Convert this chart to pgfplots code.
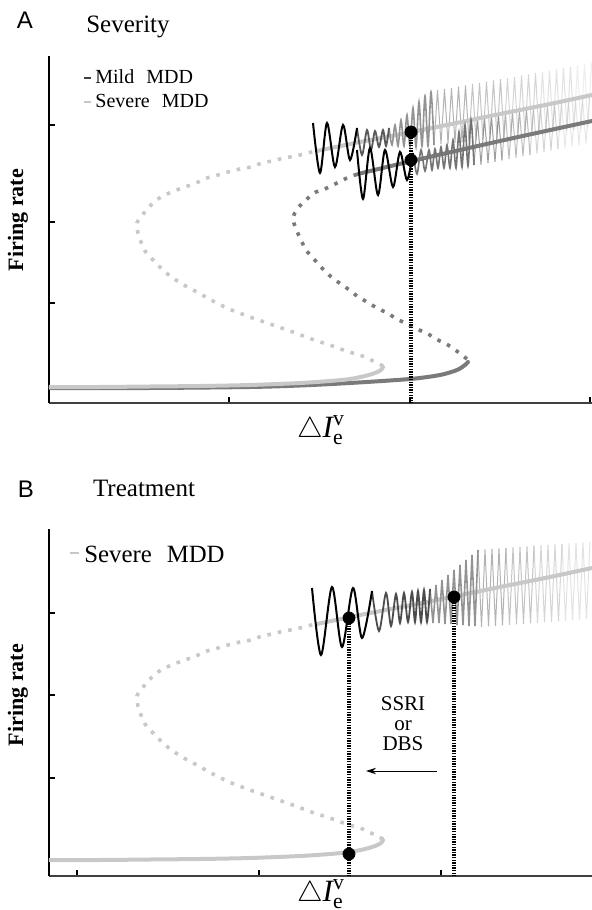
\documentclass[border=0pt]{standalone}
\usepackage{amsmath}
\usepackage{pgfplots}
\pgfplotsset{compat=1.18}
\usepackage{pgfplotstable}
\usepackage{fontspec}
\setmainfont{Liberation Serif}
\newfontfamily\arial{Liberation Sans}
\usetikzlibrary{arrows.meta}

\definecolor{lightc}{HTML}{C8C8C8}
\definecolor{darkc}{HTML}{7A7A7A}
\definecolor{bandS}{HTML}{ABABAB}
\definecolor{bandM}{HTML}{858585}

% severe MDD bifurcation curve (pixel-like units, y downward)
\pgfplotstableread{
x y
49 387
100 387
150 386.5
200 386
250 385
300 383
330 381
350 379
365 376
375 373
381 370
383 367
}\lightLower
\pgfplotstableread{
x y
383 366
371 360
360 355
349 352
338 348
327 344
317 341
306 337
290 331
270 324
250 317
229 309
219 304
209 299
199 293
189 288
179 282
170 276
161 268
153 260
145 251
141 242
138 233
137 223
144 213
154 202
163 196
174 191
185 187
196 183
207 178
218 175
228 172
240 169
251 167
262 163
272 161
284 158
296 156
307 153
317 151
}\lightMid
\pgfplotstableread{
x y
317 151
360 142
412 132
454 123.5
500 114
550 104
592 95
}\lightUpper
% mild MDD curve
\pgfplotstableread{
x y
49 388
150 388
250 387
300 385.5
350 383
410 379
440 375
457 370
465 365
468 362
}\darkLower
\pgfplotstableread{
x y
467 359
458 352
448 345
438 340
428 334
417 329
407 324
397 319
387 313
377 308
367 302
357 296
348 289
338 282
329 275
321 267
313 258
306 250
301 240
296 229
293 218
298 208
307 199
316 192
327 188
337 183
347 178
358 174
}\darkMid
\pgfplotstableread{
x y
358 174
412 161
500 141
592 121
}\darkUpper

\pgfplotsset{
  panel/.style={scale only axis, width=271.5pt, height=173.5pt,
    xmin=49, xmax=592, ymin=56, ymax=403, y dir=reverse,
    axis x line=bottom, axis y line=left,
    axis line style={-, line width=0.6pt, black},
    x axis line style={line width=0.8pt, black!75},
    tick align=inside, major tick length=2.8pt,
    tick style={line width=0.6pt, black},
    xticklabels={}, yticklabels={}},
  solidS/.style={lightc, line width=2pt, line cap=round, smooth},
  solidM/.style={darkc, line width=2pt, line cap=round, smooth},
  dotS/.style={lightc, line width=1.8pt, dash pattern=on 1.8pt off 3.5pt, smooth},
  dotM/.style={darkc, line width=1.8pt, dash pattern=on 1.8pt off 3.5pt, smooth},
  vdot/.style={black, line width=1.6pt, dash pattern=on 0.7pt off 0.6pt},
  dotmark/.style={only marks, mark=*, mark size=3pt, black},
}

\begin{document}
\begin{tikzpicture}[x=1pt,y=1pt]
\useasboundingbox (0pt,0pt) rectangle (296pt,455pt);
% ---------------- Panel A ----------------
\node[font=\arial\fontsize{12}{12}\selectfont] at (12.5pt,445pt) {A};
\node[font=\fontsize{12.5}{12}\selectfont, anchor=base] at (64pt,438.5pt) {Severity};
\node[rotate=90, font=\bfseries\fontsize{11}{11}\selectfont] at (9pt,345pt) {Firing rate};
\node[font=\fontsize{15.5}{15}\selectfont] at (160.5pt,240pt) {$\triangle\textit{I}_{\text{e}}^{\text{v}}$};
\begin{axis}[panel, at={(24.5pt,253.5pt)}, anchor=south west,
  xtick={229,410,590}, ytick={125,222,303,386}]
\addplot[solidM] table {\darkLower};
\addplot[solidS] table {\lightLower};
\addplot[dotS] table {\lightMid};
\addplot[dotM] table {\darkMid};
% dense oscillations, severe
\addplot[bandS, line width=0.5pt, draw opacity=0.9] coordinates {(434,145) (437.5,90) (441,144) (444.5,89) (448,143.5) (451.5,88) (455,142.7) (458.5,86.7) (462,142) (465.5,85.4) (469,141.2)};
\addplot[bandS, line width=0.5pt, draw opacity=0.7] coordinates {(469,141.2) (472.5,84.2) (476,140.5) (479.5,83) (483,139.7) (486.5,81.7) (490,139) (493.5,80.5) (497,138.2) (500.5,79.2) (504,137.4)};
\addplot[bandS, line width=0.5pt, draw opacity=0.5] coordinates {(504,137.4) (507.5,78) (511,136.7) (514.5,76.8) (518,135.9) (521.5,75.5) (525,135.2) (528.5,74.3) (532,134.4) (535.5,73) (539,133.7)};
\addplot[bandS, line width=0.5pt, draw opacity=0.35] coordinates {(539,133.7) (542.5,71.8) (546,132.9) (549.5,70.6) (553,132.1) (556.5,69.3) (560,131.4) (563.5,68) (567,130.6) (570.5,66.8) (574,129.9)};
\addplot[bandS, line width=0.5pt, draw opacity=0.22] coordinates {(574,129.9) (577.5,65.6) (581,129.1) (584.5,64.3) (588,128.3) (591.5,63)};
% dense oscillations, mild
\addplot[bandM, line width=0.5pt, draw opacity=0.8] coordinates {(474,165) (477.5,119.3) (481,164.6) (484.5,117.9) (488,163.2) (491.5,116.5) (495,161.8) (498.5,115.1) (502,160.4)};
\addplot[bandM, line width=0.5pt, draw opacity=0.55] coordinates {(502,160.4) (505.5,113.7) (509,159) (512.5,112.3) (516,157.6) (519.5,110.9) (523,156.2) (526.5,109.5) (530,154.8)};
\addplot[bandM, line width=0.5pt, draw opacity=0.35] coordinates {(530,154.8) (533.5,108.1) (537,153.4) (540.5,106.7) (544,152) (547.5,105.3) (551,150.6) (554.5,103.9) (558,149.2)};
\addplot[bandM, line width=0.5pt, draw opacity=0.2] coordinates {(558,149.2) (561.5,102.5) (565,147.8) (568.5,101.1) (572,146.4) (575.5,99.7) (579,145) (582.5,98.3) (586,143.6) (589.5,96.9)};
\addplot[solidS] table {\lightUpper};
\addplot[solidM] table {\darkUpper};
% slow oscillations
\addplot[gray!85, line width=0.8pt, smooth] coordinates {(389,128) (392,145) (395,125) (398,146) (401,120) (404,146) (407,115) (410,147) (413,108) (416,147) (419,102) (422,146) (425,96) (428,146) (431,92) (434,145)};
\addplot[black!65, line width=0.9pt, smooth] coordinates {(357,128) (362,155) (367,130) (371,150) (375,131) (379,147) (383,130) (386,146) (389,128)};
\addplot[black, line width=1pt, smooth] coordinates {(313,123) (320,173) (327,123) (335,167) (343,125) (350,160) (357,128)};
\addplot[black!55, line width=0.8pt, smooth] coordinates {(413,153) (417,174) (421,150) (425,171) (429,150) (432,170) (435,149) (438,168) (441,147) (444,168) (447,145) (450,168) (453,140) (456,168) (459,132) (462,167) (465,125) (468,166) (471,120) (474,165)};
\addplot[black, line width=1pt, smooth] coordinates {(357,150) (363,199) (370,148) (378,195) (385,150) (393,187) (400,152) (407,180) (413,153)};
\addplot[vdot] coordinates {(411,132) (411,403)};
\addplot[dotmark] coordinates {(411,132) (411,160)};
% legend
\draw[black!75, line width=1.2pt] (axis cs:84,78) -- (axis cs:91,78);
\node[anchor=base west, inner sep=0pt, font=\fontsize{10}{12}\selectfont] at (axis cs:95,84) {Mild\hspace{0.35em} MDD};
\draw[lightc, line width=1.2pt] (axis cs:84,102) -- (axis cs:91,102);
\node[anchor=base west, inner sep=0pt, font=\fontsize{10}{12}\selectfont] at (axis cs:95,108) {Severe\hspace{0.35em} MDD};
\end{axis}

% ---------------- Panel B ----------------
\node[font=\arial\fontsize{12}{12}\selectfont] at (13pt,210.5pt) {B};
\node[font=\fontsize{12.5}{12}\selectfont, anchor=base] at (72pt,206.5pt) {Treatment};
\node[rotate=90, font=\bfseries\fontsize{11}{11}\selectfont] at (9pt,107.5pt) {Firing rate};
\node[font=\fontsize{15.5}{15}\selectfont] at (160.5pt,8pt) {$\triangle\textit{I}_{\text{e}}^{\text{v}}$};
\begin{axis}[panel, at={(24.5pt,17pt)}, anchor=south west,
  xtick={77,259,441}, ytick={140,222,305,387}]
\addplot[solidS] table {\lightLower};
\addplot[dotS] table {\lightMid};
\addplot[bandS, line width=0.5pt, draw opacity=0.9] coordinates {(478,77) (481.5,153.8) (485,76.5) (488.5,153.3) (492,76) (495.5,152.8) (499,75.5) (502.5,152.3) (506,75)};
\addplot[bandS, line width=0.5pt, draw opacity=0.7] coordinates {(506,75) (509.5,151.8) (513,74.5) (516.5,151.3) (520,74) (523.5,150.8) (527,73.4) (530.5,150.3) (534,72.9)};
\addplot[bandS, line width=0.5pt, draw opacity=0.5] coordinates {(534,72.9) (537.5,149.8) (541,72.4) (544.5,149.3) (548,71.9) (551.5,148.8) (555,71.4) (558.5,148.3) (562,70.8)};
\addplot[bandS, line width=0.5pt, draw opacity=0.33] coordinates {(562,70.8) (565.5,147.8) (569,70.3) (572.5,147.2) (576,69.8) (579.5,146.7) (583,69.3) (586.5,146.2) (590,68.8)};
\addplot[solidS] table {\lightUpper};
\addplot[gray!85, line width=0.8pt] coordinates {(430,116) (433,150) (436,112) (439,150) (442,107) (445,151) (448,102) (451,151) (454,97) (457,152) (460,92) (463,152) (466,87) (469,153) (472,82) (475,153) (478,77)};
\addplot[black!70, line width=0.9pt, smooth] coordinates {(372,118) (379,158) (386,120) (391,153) (396,121) (400,150) (404,120) (408,149) (412,119) (415,149) (418,118) (421,149) (424,117) (427,149) (430,116)};
\addplot[black, line width=1pt, smooth] coordinates {(312,115) (321,182) (332,114) (342,174) (353,115) (362,165) (372,118)};
\addplot[vdot] coordinates {(349,145) (349,403)};
\addplot[vdot] coordinates {(454,124) (454,403)};
\addplot[dotmark] coordinates {(349,145) (349,381) (454,124)};
\node[align=center, font=\fontsize{10.5}{10}\selectfont] at (axis cs:403,251) {SSRI\\or\\DBS};
\draw[-{Stealth[length=5pt,width=3.2pt]}, line width=0.5pt] (axis cs:437,298) -- (axis cs:366,298);
\draw[lightc, line width=1.2pt] (axis cs:70,80) -- (axis cs:79,80);
\node[anchor=base west, inner sep=0pt, font=\fontsize{12.4}{14}\selectfont] at (axis cs:84,89) {Severe\hspace{0.35em} MDD};
\end{axis}
\end{tikzpicture}
\end{document}
